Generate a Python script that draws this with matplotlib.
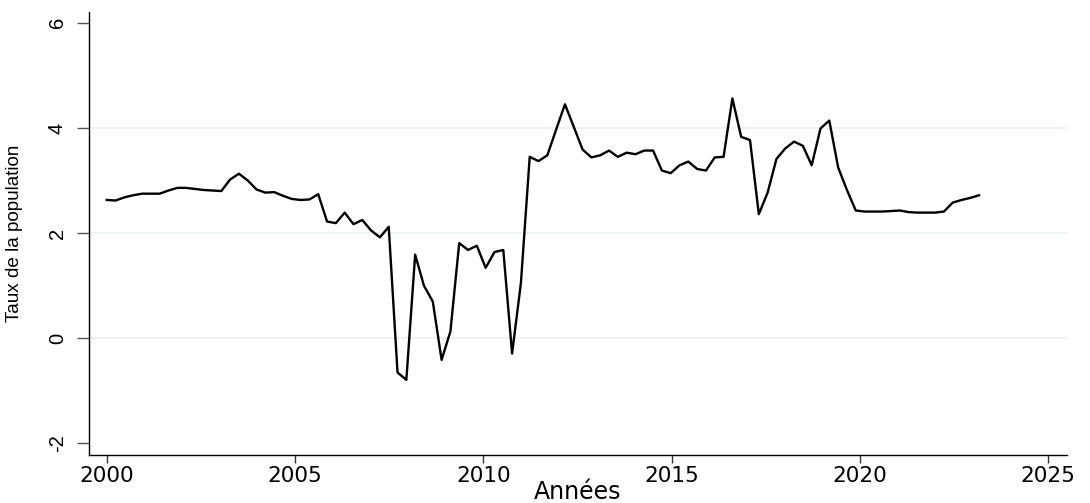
import numpy as np
import matplotlib
matplotlib.use("Agg")
import matplotlib.pyplot as plt

plt.rcParams['font.family'] = ['DejaVu Sans']

# 100 observations, regular step on the year axis
annee_debut = 2000.0
pas = 0.234
taux = [
    2.63, 2.62, 2.68, 2.72, 2.75, 2.75, 2.75, 2.81, 2.86, 2.86,
    2.84, 2.82, 2.81, 2.80, 3.02, 3.13, 3.00, 2.83, 2.77, 2.78,
    2.71, 2.65, 2.63, 2.64, 2.74, 2.22, 2.19, 2.39, 2.17, 2.25,
    2.05, 1.92, 2.12, -0.65, -0.79, 1.59, 1.00, 0.70, -0.41, 0.13,
    1.81, 1.68, 1.76, 1.34, 1.64, 1.68, -0.29, 1.05, 3.45, 3.37,
    3.48, 3.97, 4.45, 4.02, 3.59, 3.44, 3.48, 3.57, 3.45, 3.53,
    3.50, 3.57, 3.57, 3.19, 3.14, 3.29, 3.36, 3.22, 3.19, 3.44,
    3.45, 4.56, 3.83, 3.77, 2.36, 2.77, 3.41, 3.61, 3.74, 3.66,
    3.29, 3.99, 4.14, 3.25, 2.82, 2.43, 2.41, 2.41, 2.41, 2.42,
    2.43, 2.40, 2.39, 2.39, 2.39, 2.41, 2.58, 2.63, 2.67, 2.72,
]
annees = annee_debut + pas * np.arange(len(taux))

x_ticks = [2000, 2005, 2010, 2015, 2020, 2025]
y_ticks = [-2, 0, 2, 4, 6]
y_grid = [0, 2, 4]

fig = plt.figure(figsize=(10.9, 5.03), dpi=100)
ax = fig.add_axes([0.0817, 0.0954, 0.8972, 0.8807])

for g in y_grid:
    ax.axhline(g, color="#eaf1f4", linewidth=1.2, zorder=0)

ax.plot(annees, taux, color="black", linewidth=1.7, zorder=3)

ax.set_xlim(1999.53, 2025.5)
ax.set_ylim(-2.219, 6.204)
ax.set_xticks(x_ticks)
ax.set_yticks(y_ticks)
ax.set_xticklabels([str(t) for t in x_ticks], fontsize=15.5)
ax.set_yticklabels([str(t) for t in y_ticks], fontsize=14.5, rotation=90, va="center",
                   family="Liberation Sans")

ax.tick_params(axis="x", length=6, width=1, pad=2, color="#333333")
ax.tick_params(axis="y", length=9, width=1, pad=7, color="#555555")

for s in ["top", "right"]:
    ax.spines[s].set_visible(False)
for s in ["left", "bottom"]:
    ax.spines[s].set_linewidth(1.0)
    ax.spines[s].set_color("black")

ax.set_ylabel("Taux de la population", fontsize=13.6, family="Liberation Sans")
ax.yaxis.set_label_coords(-0.068, 0.5)
ax.set_xlabel("Années", fontsize=17)
ax.xaxis.set_label_coords(0.5, -0.056)

fig.savefig("out.png", dpi=100, facecolor="white")
